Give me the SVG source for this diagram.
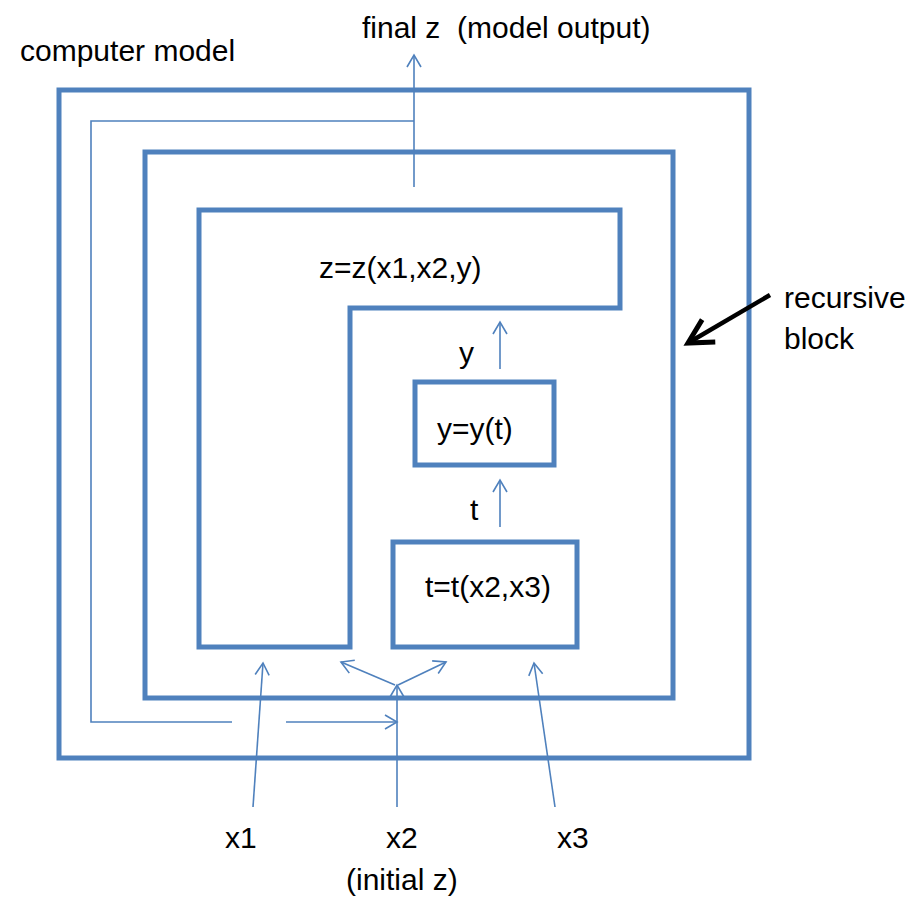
<svg xmlns="http://www.w3.org/2000/svg" width="909" height="901" viewBox="0 0 909 901">
<style>
.box{fill:none;stroke:#4F81BD;stroke-width:5;stroke-linejoin:miter}
.thin{fill:none;stroke:#4F81BD;stroke-width:1.6}
.arr{marker-end:url(#ah)}
text{font-family:"Liberation Sans",Arial,sans-serif;font-size:30px;fill:#000}
</style>
<defs>
<marker id="ah" markerUnits="userSpaceOnUse" orient="auto" refX="0" refY="0" markerWidth="30" markerHeight="30" viewBox="-15 -15 30 30" overflow="visible">
<path d="M-12,-7 L0,0 L-12,7" fill="none" stroke="#4F81BD" stroke-width="1.6"/>
</marker>
<marker id="bh" markerUnits="userSpaceOnUse" orient="auto" refX="0" refY="0" markerWidth="60" markerHeight="60" viewBox="-30 -30 60 60" overflow="visible">
<path d="M-24,-13 L0,0 L-24,13" fill="none" stroke="#000" stroke-width="5" stroke-linejoin="miter"/>
</marker>
</defs>
<rect width="909" height="901" fill="#fff"/>
<g id="computer-model">
<rect class="box" x="59" y="90" width="690" height="668"/>
<text x="20" y="61">computer model</text>
</g>
<g id="recursive-block">
<rect class="box" x="145" y="152" width="528" height="546"/>
<text x="784" y="308">recursive</text>
<text x="784" y="349">block</text>
</g>
<g id="z-block">
<path class="box" d="M199,210 H620 V308 H350 V647 H199 Z"/>
<text x="319" y="278">z=z(x1,x2,y)</text>
</g>
<g id="y-block">
<rect class="box" x="415" y="382" width="139" height="83"/>
<text x="437" y="439">y=y(t)</text>
</g>
<g id="t-block">
<rect class="box" x="393" y="542" width="184" height="105"/>
<text x="425" y="597">t=t(x2,x3)</text>
</g>
<g id="labels">
<text x="362" y="38" xml:space="preserve">final z  (model output)</text>
<text x="459" y="363">y</text>
<text x="470" y="520">t</text>
<text x="225" y="848">x1</text>
<text x="386" y="848">x2</text>
<text x="557" y="848">x3</text>
<text x="346" y="890">(initial z)</text>
</g>
<g id="connectors">
<path class="thin arr" d="M414,187 V55"/>
<path class="thin" d="M414,121 H91 V722 H232"/>
<path class="thin arr" d="M286,722 H397"/>
<path class="thin arr" d="M500,369 V322"/>
<path class="thin arr" d="M500,527 V480"/>
<path class="thin arr" d="M253,807 L263,663"/>
<path class="thin arr" d="M397,807 V685"/>
<path class="thin arr" d="M395,685 L341,662"/>
<path class="thin arr" d="M398,685 L446,662"/>
<path class="thin arr" d="M555,807 L534,663"/>
<path fill="none" stroke="#000" stroke-width="4.5" marker-end="url(#bh)" d="M770,295 L688,343"/>
</g>
</svg>
